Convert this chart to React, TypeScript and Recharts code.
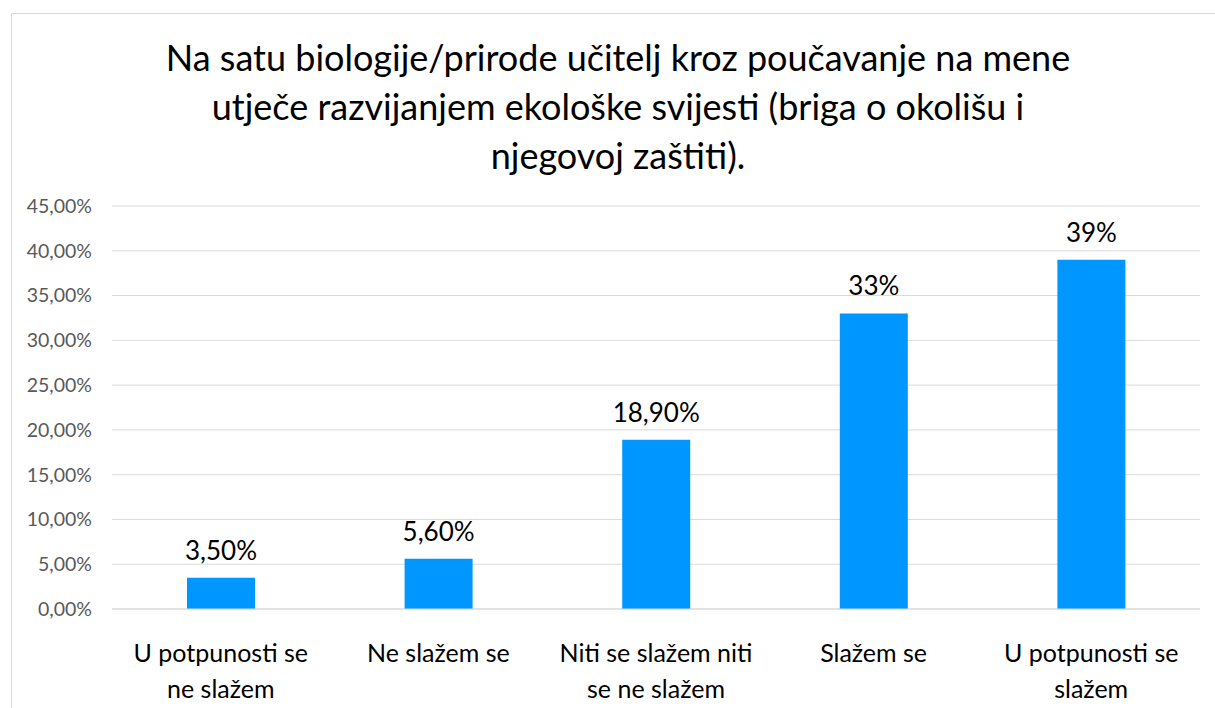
import { BarChart, Bar, XAxis, YAxis, CartesianGrid, LabelList } from "recharts";

const categories = [
  "U potpunosti se|ne slažem",
  "Ne slažem se",
  "Niti se slažem niti|se ne slažem",
  "Slažem se",
  "U potpunosti se|slažem",
];
const values = [3.5, 5.6, 18.9, 33, 39];
const valueLabels = ["3,50%", "5,60%", "18,90%", "33%", "39%"];
const yTicks = [0, 5, 10, 15, 20, 25, 30, 35, 40, 45];
const titleLines = [
  "Na satu biologije/prirode učitelj kroz poučavanje na mene",
  "utječe razvijanjem ekološke svijesti (briga o okolišu i",
  "njegovoj zaštiti).",
];

const data = categories.map((c, i) => ({ name: c, value: values[i], label: valueLabels[i] }));

const FONT = "Lato, 'Open Sans', sans-serif";

function fmtPct(v: number) {
  return v.toFixed(2).replace(".", ",") + "%";
}

function CategoryTick(props: any) {
  const { x, y, payload } = props;
  const lines = String(payload.value).split("|");
  return (
    <text x={x} y={y} textAnchor="middle" fontFamily={FONT} fontSize={25} fill="#000">
      {lines.map((l, i) => (
        <tspan key={i} x={x} y={y + 45 + i * 36}>
          {l}
        </tspan>
      ))}
    </text>
  );
}

function ValueLabel(props: any) {
  const { x, y, width, value } = props;
  return (
    <text x={x + width / 2} y={y - 18} textAnchor="middle" fontFamily={FONT} fontSize={26} fill="#000">
      {value}
    </text>
  );
}

export default function App() {
  return (
    <div style={{ position: "fixed", left: 0, top: 0, width: 1215, height: 708, background: "#fff", overflow: "hidden" }}>
      <div
        style={{
          position: "absolute",
          left: 11,
          top: 13,
          width: 1215,
          height: 708,
          border: "1px solid #D9D9D9",
          boxSizing: "border-box",
        }}
      />
      <div
        style={{
          position: "absolute",
          left: 0,
          top: 33,
          width: 1236,
          textAlign: "center",
          fontFamily: FONT,
          fontSize: 36,
          lineHeight: "49px",
          color: "#000",
        }}
      >
        {titleLines.map((l, i) => (
          <div key={i}>{l}</div>
        ))}
      </div>
      <div style={{ position: "absolute", left: 0, top: 0 }}>
        <BarChart
          width={1215}
          height={708}
          data={data}
          margin={{ top: 206, right: 15, bottom: 0, left: 0 }}
        >
          <CartesianGrid vertical={false} stroke="#D9D9D9" />
          <XAxis
            dataKey="name"
            height={99}
            axisLine={{ stroke: "#D9D9D9" }}
            tickLine={false}
            tick={<CategoryTick />}
            interval={0}
          />
          <YAxis
            width={112}
            domain={[0, 45]}
            ticks={yTicks}
            tickFormatter={fmtPct}
            axisLine={false}
            tickLine={false}
            tickSize={0}
            tickMargin={20}
            tick={{ fontFamily: FONT, fontSize: 19.5, fill: "#595959" }}
          />
          <Bar dataKey="value" fill="#0096FF" barSize={68} isAnimationActive={false}>
            <LabelList dataKey="label" content={<ValueLabel />} />
          </Bar>
        </BarChart>
      </div>
    </div>
  );
}
